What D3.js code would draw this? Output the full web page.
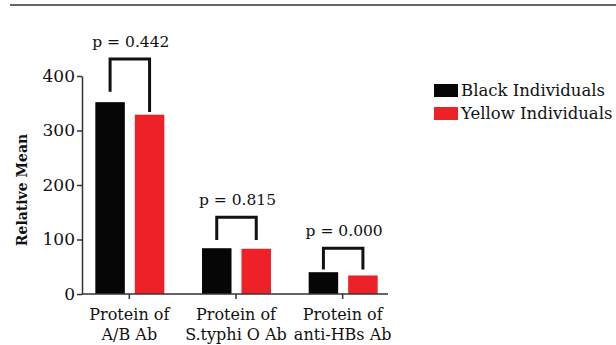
<!DOCTYPE html>
<html><head><meta charset="utf-8">
<script src="https://cdn.jsdelivr.net/npm/d3@7"></script>
<style>
html,body{margin:0;padding:0;background:#fff;}
svg{display:block;}
text{font-family:"DejaVu Serif",serif;fill:#111;}
</style></head>
<body>
<svg id="chart" width="616" height="345"></svg>
<script>
const categories = [["Protein of","A/B Ab"],["Protein of","S.typhi O Ab"],["Protein of","anti-HBs Ab"]];
const seriesNames = ["Black Individuals","Yellow Individuals"];
const blackValues = [352, 84, 40];
const yellowValues = [329, 83, 34];
const pValues = ["p = 0.442","p = 0.815","p = 0.000"];
const bracketTop = [431, 141, 84];
const bracketLeftEnd = [371, 99, 45];
const bracketRightEnd = [334, 99, 45];
const yTicks = [0,100,200,300,400];
const colors = ["#060606","#ee2128"];

const svg = d3.select("#chart");

// top rule
svg.append("line").attr("x1",10).attr("x2",616).attr("y1",5).attr("y2",5)
  .attr("stroke","#333").attr("stroke-width",1.5);

const y = d3.scaleLinear().domain([0,400]).range([294,76]);
const x0 = d3.scaleBand().domain(d3.range(categories.length)).range([76,396]).padding(0);
const x1 = d3.scaleBand().domain([0,1]).range([-34,35]).paddingInner(0.253).paddingOuter(0);

const series = [blackValues, yellowValues];

// bars
const g = svg.append("g");
categories.forEach((c,i)=>{
  const cx = x0(i) + x0.bandwidth()/2;
  series.forEach((vals,s)=>{
    g.append("rect")
      .attr("x", cx + x1(s))
      .attr("width", x1.bandwidth())
      .attr("y", y(vals[i]))
      .attr("height", y(0)-y(vals[i]))
      .attr("fill", colors[s]);
  });
  // bracket
  const lx = cx + x1(0) + x1.bandwidth()/2;
  const rx = cx + x1(1) + x1.bandwidth()/2;
  const path = d3.path();
  path.moveTo(lx, y(bracketLeftEnd[i]));
  path.lineTo(lx, y(bracketTop[i]));
  path.lineTo(rx, y(bracketTop[i]));
  path.lineTo(rx, y(bracketRightEnd[i]));
  g.append("path").attr("d", path.toString()).attr("fill","none")
    .attr("stroke","#111").attr("stroke-width",3).attr("stroke-linejoin","miter");
  g.append("text").attr("x",(lx+rx)/2+1).attr("y",y(bracketTop[i])-12)
    .attr("text-anchor","middle").attr("font-size",15.5).text(pValues[i]);
});

// y axis
const yAxis = svg.append("g").attr("transform","translate(82,0)")
  .call(d3.axisLeft(y).tickValues(yTicks).tickSize(5).tickPadding(2).tickSizeOuter(0));
yAxis.select(".domain").attr("stroke","#333").attr("stroke-width",1.5);
yAxis.selectAll(".tick line").attr("stroke","#333").attr("stroke-width",1.5);
yAxis.selectAll(".tick text").attr("font-family","DejaVu Serif").attr("font-size",17).attr("fill","#111");

// x axis
const xAxis = svg.append("g").attr("transform","translate(0,294)");
xAxis.append("line").attr("x1",82).attr("x2",388).attr("stroke","#333").attr("stroke-width",1.5);
categories.forEach((c,i)=>{
  const cx = x0(i) + x0.bandwidth()/2;
  xAxis.append("line").attr("x1",cx).attr("x2",cx).attr("y1",0).attr("y2",5)
    .attr("stroke","#333").attr("stroke-width",1.5);
  const t = xAxis.append("text").attr("text-anchor","middle").attr("font-size",16);
  t.append("tspan").attr("x",cx).attr("y",26).text(c[0]);
  t.append("tspan").attr("x",cx).attr("y",46).text(c[1]);
});

// y title
svg.append("text").attr("transform","translate(27,190) rotate(-90)")
  .attr("text-anchor","middle").attr("font-size",14).attr("font-weight","bold")
  .text("Relative Mean");

// legend
seriesNames.forEach((n,s)=>{
  const ly = 84 + s*23;
  svg.append("rect").attr("x",434).attr("y",ly).attr("width",24).attr("height",13).attr("fill",colors[s]);
  svg.append("text").attr("x",461).attr("y",ly+12).attr("font-size",16.5).text(n);
});
</script>
</body></html>
